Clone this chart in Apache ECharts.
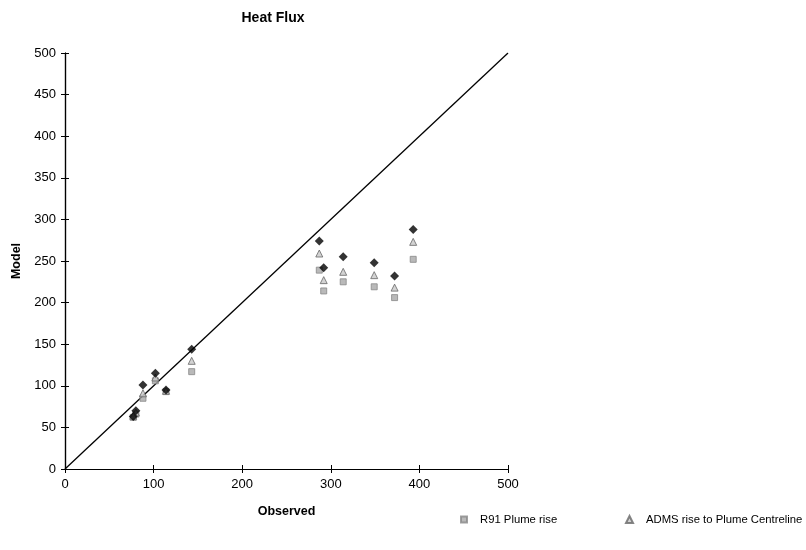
<!DOCTYPE html>
<html>
<head>
<meta charset="utf-8">
<script src="https://cdn.jsdelivr.net/npm/echarts@6/dist/echarts.min.js"></script>
<style>
  html, body { margin: 0; padding: 0; background: #fff; }
  #chart { width: 806px; height: 550px; }
</style>
</head>
<body>
<div id="chart"></div>
<script>
// Observed vs modelled heat flux
const observed      = [80, 77, 88, 102, 114, 143, 287, 292, 314, 349, 372, 393];
const admsPlumeRise = [70, 63, 101, 115, 95, 144, 274, 242, 255, 248, 232, 288];
const admsCentre    = [68, 64, 91, 110, 94, 130, 259, 227, 237, 233, 218, 273];
const r91PlumeRise  = [66, 62, 85, 106, 93, 117, 239, 214, 225, 219, 206, 252];
const parityLine    = [[0, 0], [500, 500]];
const xTicks = { min: 0, max: 500, interval: 100 };
const yTicks = { min: 0, max: 500, interval: 50 };

const pairs = ys => observed.map((x, i) => [x, ys[i]]);

const font = 'Liberation Sans, Arial, sans-serif';
const axisBase = {
  axisLine: { show: true, lineStyle: { color: '#000', width: 1.2 } },
  splitLine: { show: false },
  axisLabel: { color: '#000', fontFamily: font, fontSize: 13 }
};
const legendText = { fontFamily: font, fontSize: 11.3, color: '#000', padding: [0, 0, 0, 8] };
const axisNameText = { fontFamily: font, fontSize: 12.5, fontWeight: 'bold', color: '#000' };

const chart = echarts.init(document.getElementById('chart'), null, { renderer: 'canvas' });
chart.setOption({
  animation: false,
  backgroundColor: '#fff',
  title: {
    text: 'Heat Flux',
    left: 268, top: 6, textAlign: 'center',
    textStyle: { fontFamily: font, fontSize: 14, fontWeight: 'bold', color: '#000' }
  },
  legend: [
    {
      left: 455, top: 509, itemWidth: 6, itemHeight: 6, textStyle: legendText,
      data: [{ name: 'R91 Plume rise', icon: 'rect' }]
    },
    {
      left: 620, top: 509, itemWidth: 7, itemHeight: 7, textStyle: legendText,
      data: [{ name: 'ADMS rise to Plume Centreline', icon: 'triangle' }]
    }
  ],
  grid: { left: 65, right: 298, top: 53, bottom: 81 },
  xAxis: [
    Object.assign({}, axisBase, {
      type: 'value', min: xTicks.min, max: xTicks.max, interval: xTicks.interval,
      name: 'Observed', nameLocation: 'middle', nameGap: 36, nameTextStyle: axisNameText,
      axisTick: { show: true, length: 4, lineStyle: { color: '#000' } },
      axisLabel: Object.assign({}, axisBase.axisLabel, { margin: 9 })
    }),
    // second copy of the scale carries the inner half of each tick
    Object.assign({}, axisBase, {
      type: 'value', position: 'bottom', offset: 0,
      min: xTicks.min, max: xTicks.max, interval: xTicks.interval,
      axisTick: { show: true, inside: true, length: 4, lineStyle: { color: '#000' } },
      axisLabel: { show: false }
    })
  ],
  yAxis: [
    Object.assign({}, axisBase, {
      type: 'value', min: yTicks.min, max: yTicks.max, interval: yTicks.interval,
      name: 'Model', nameLocation: 'middle', nameGap: 38, nameRotate: 90, nameTextStyle: axisNameText,
      axisTick: { show: true, length: 4, lineStyle: { color: '#000' } },
      axisLabel: Object.assign({}, axisBase.axisLabel, { margin: 9 })
    }),
    Object.assign({}, axisBase, {
      type: 'value', position: 'left', offset: 0,
      min: yTicks.min, max: yTicks.max, interval: yTicks.interval,
      axisTick: { show: true, inside: true, length: 4, lineStyle: { color: '#000' } },
      axisLabel: { show: false }
    })
  ],
  series: [
    {
      name: '1:1', type: 'line', data: parityLine, showSymbol: false, symbol: 'none',
      lineStyle: { color: '#000', width: 1.3 }, silent: true, z: 1
    },
    {
      name: 'R91 Plume rise', type: 'scatter', data: pairs(r91PlumeRise),
      symbol: 'rect', symbolSize: 6,
      itemStyle: { color: '#a8a8a8', borderColor: '#888', borderWidth: 1 }, z: 3
    },
    {
      name: 'ADMS rise to Plume Centreline', type: 'scatter', data: pairs(admsCentre),
      symbol: 'triangle', symbolSize: 7,
      itemStyle: { color: '#c8c8c8', borderColor: '#666', borderWidth: 1 }, z: 4
    },
    {
      name: 'ADMS plume rise', type: 'scatter', data: pairs(admsPlumeRise),
      symbol: 'diamond', symbolSize: 9,
      itemStyle: { color: '#000' }, z: 5
    }
  ]
});
</script>
</body>
</html>
